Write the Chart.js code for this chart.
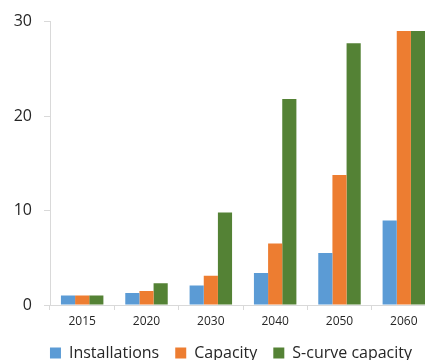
<!DOCTYPE html>
<html>
<head>
<meta charset="utf-8">
<script src="https://cdn.jsdelivr.net/npm/chart.js@4/dist/chart.umd.min.js"></script>
<style>
  html, body { margin: 0; padding: 0; background: #ffffff; overflow: hidden; }
  #wrap { position: relative; width: 436px; height: 371px; }
</style>
</head>
<body>
<div id="wrap"><canvas id="chart"></canvas></div>
<script>
// Years on the category axis
const years = ['2015', '2020', '2030', '2040', '2050', '2060'];

// Series values
const installations = [1.0, 1.26, 2.07, 3.4, 5.5, 8.95];
const capacity = [1.0, 1.47, 3.1, 6.5, 13.75, 29.0];
const sCurveCapacity = [1.0, 2.3, 9.8, 21.8, 27.7, 29.0];

// Value axis ticks
const yTicks = [0, 10, 20, 30];

const FONT = "'Open Sans', 'Noto Sans', sans-serif";
const AXIS_GREY = '#D9D9D9';
const TEXT = '#262626';

// Nudge the legend row a little to the right of the canvas centre
const legendShift = {
  id: 'legendShift',
  afterLayout(chart) {
    const lg = chart.legend;
    if (lg) { lg.left += 13; lg.right += 13; }
  }
};

new Chart(document.getElementById('chart'), {
  type: 'bar',
  data: {
    labels: years,
    datasets: [
      { label: 'Installations', data: installations, backgroundColor: '#5B9BD5' },
      { label: 'Capacity', data: capacity, backgroundColor: '#ED7D31' },
      { label: 'S-curve capacity', data: sCurveCapacity, backgroundColor: '#548235' }
    ]
  },
  plugins: [legendShift],
  options: {
    responsive: true,
    maintainAspectRatio: false,
    animation: false,
    datasets: { bar: { categoryPercentage: 0.66, barPercentage: 1.0, borderWidth: 0 } },
    layout: { padding: { top: 10, left: 0, right: 0, bottom: 0 } },
    plugins: {
      tooltip: { enabled: false },
      legend: {
        position: 'bottom',
        labels: {
          font: { family: FONT, size: 16 },
          color: TEXT,
          boxWidth: 11,
          boxHeight: 11,
          padding: 16
        }
      }
    },
    scales: {
      x: {
        afterFit: (axis) => { axis.height = 24; },
        grid: { display: true, drawOnChartArea: false, tickLength: 5, color: AXIS_GREY },
        border: { display: true, color: AXIS_GREY },
        ticks: { font: { family: FONT, size: 12 }, color: TEXT, padding: 4, maxRotation: 0 }
      },
      y: {
        min: 0,
        max: 30,
        afterBuildTicks: (axis) => { axis.ticks = yTicks.map(v => ({ value: v })); },
        afterFit: (axis) => { axis.width = 50; },
        grid: { display: true, drawOnChartArea: false, tickLength: 6, color: AXIS_GREY },
        border: { display: true, color: AXIS_GREY },
        ticks: { font: { family: FONT, size: 16 }, color: TEXT, padding: 12 }
      }
    }
  }
});
</script>
</body>
</html>
